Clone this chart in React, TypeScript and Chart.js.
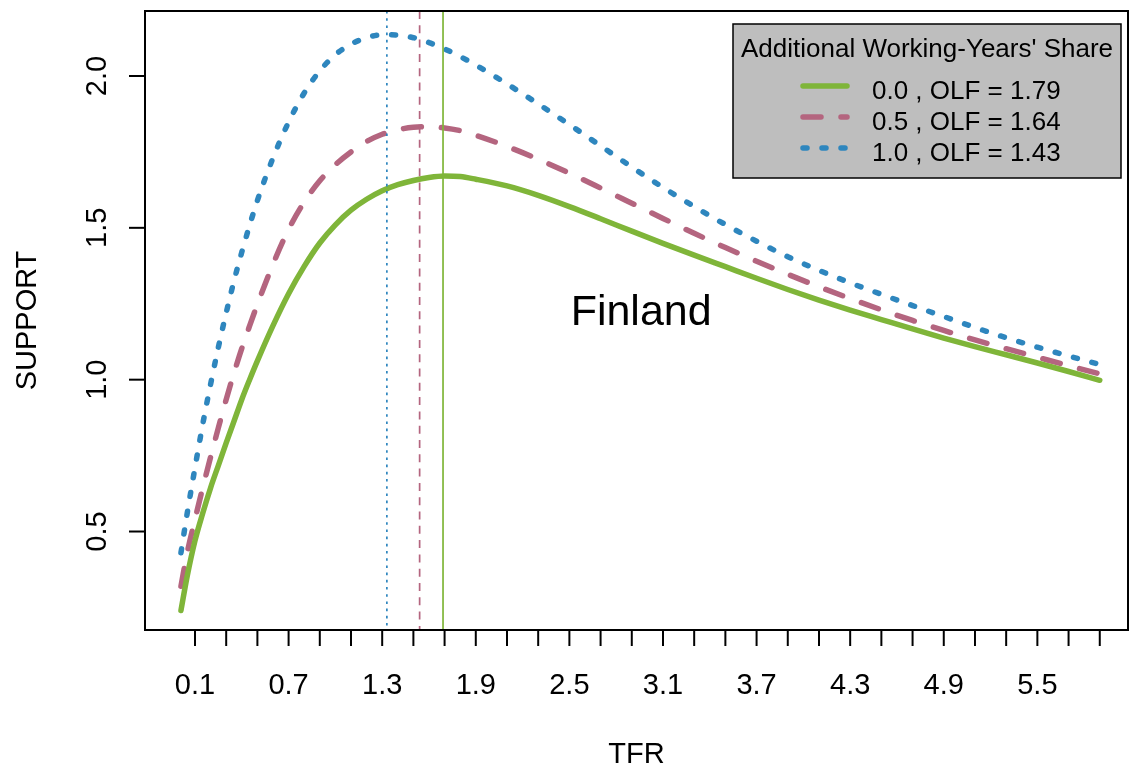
import { useEffect, useRef } from "react";
import { Chart, registerables } from "chart.js";

Chart.register(...registerables);

// Total fertility rate grid shared by the three support curves
const TFR = [
  0.11, 0.15, 0.2, 0.25, 0.3, 0.35, 0.4, 0.45, 0.5, 0.55, 0.6, 0.7, 0.8, 0.9,
  1.0, 1.1, 1.2, 1.3, 1.4, 1.5, 1.6, 1.7, 1.8, 1.9, 2.0, 2.2, 2.4, 2.6, 2.8,
  3.0, 3.2, 3.4, 3.6, 3.8, 4.0, 4.2, 4.4, 4.6, 4.8, 5.0, 5.2, 5.4, 5.6, 5.8,
  6.0,
];

// SUPPORT for additional working-years' share 0.0
const SUPPORT_SHARE_00 = [
  0.24, 0.353, 0.47, 0.561, 0.644, 0.718, 0.792, 0.863, 0.935, 1.0, 1.062,
  1.178, 1.283, 1.373, 1.45, 1.51, 1.558, 1.594, 1.622, 1.642, 1.656, 1.666,
  1.671, 1.669, 1.66, 1.638, 1.607, 1.57, 1.53, 1.489, 1.449, 1.41, 1.372,
  1.334, 1.297, 1.262, 1.229, 1.198, 1.167, 1.137, 1.109, 1.082, 1.055, 1.027,
  0.998,
];

// SUPPORT for share 0.5
const SUPPORT_SHARE_05 = [
  0.32, 0.43, 0.54, 0.645, 0.745, 0.842, 0.935, 1.022, 1.103, 1.177, 1.248,
  1.38, 1.495, 1.585, 1.655, 1.708, 1.75, 1.784, 1.808, 1.823, 1.831, 1.833,
  1.829, 1.82, 1.805, 1.768, 1.726, 1.68, 1.631, 1.581, 1.531, 1.482, 1.435,
  1.39, 1.347, 1.306, 1.267, 1.23, 1.195, 1.162, 1.131, 1.102, 1.074, 1.046,
  1.019,
];

// SUPPORT for share 1.0
const SUPPORT_SHARE_10 = [
  0.43, 0.56, 0.71, 0.854, 0.985, 1.107, 1.22, 1.325, 1.42, 1.508, 1.59,
  1.73, 1.848, 1.944, 2.017, 2.07, 2.105, 2.126, 2.136, 2.135, 2.126, 2.11,
  2.089, 2.064, 2.036, 1.974, 1.908, 1.84, 1.77, 1.7, 1.633, 1.57, 1.511,
  1.456, 1.405, 1.36, 1.319, 1.281, 1.244, 1.208, 1.172, 1.138, 1.107, 1.078,
  1.05,
];

const SHARE_LABELS = ["0.0", "0.5", "1.0"];
// Optimal level of fertility for each share (vertical reference lines)
const OLF = [1.79, 1.64, 1.43];

const X_TICKS = [
  0.2, 0.4, 0.6, 0.8, 1.0, 1.2, 1.4, 1.6, 1.8, 2.0, 2.2, 2.4, 2.6, 2.8, 3.0,
  3.2, 3.4, 3.6, 3.8, 4.0, 4.2, 4.4, 4.6, 4.8, 5.0, 5.2, 5.4, 5.6, 5.8, 6.0,
];
const X_TICK_LABELS = [
  "0.1", "", "", "0.7", "", "", "1.3", "", "", "1.9", "", "", "2.5", "", "",
  "3.1", "", "", "3.7", "", "", "4.3", "", "", "4.9", "", "", "5.5", "", "",
];
const Y_TICKS = [0.5, 1.0, 1.5, 2.0];
const Y_TICK_LABELS = ["0.5", "1.0", "1.5", "2.0"];

const COUNTRY = "Finland";
const X_TITLE = "TFR";
const Y_TITLE = "SUPPORT";
const LEGEND_TITLE = "Additional Working-Years' Share";

const FONT = '"Liberation Sans", Arial, Helvetica, sans-serif';
const COLORS = ["#7FB539", "#B4657F", "#2E86BE"];
const CURVE_DASH = [[], [18, 20], [4, 15]];
const VLINE_DASH = [[], [8, 6.3], [2.6, 4.6]];
const CURVE_WIDTH = 5.5;

const decorPlugin = {
  id: "decor",
  afterDatasetsDraw(chart: any) {
    const { ctx, chartArea: a, scales } = chart;
    const x = scales.x;
    const y = scales.y;
    ctx.save();

    // OLF reference lines
    OLF.forEach((v, i) => {
      const px = x.getPixelForValue(v);
      ctx.beginPath();
      ctx.setLineDash(VLINE_DASH[i]);
      ctx.lineCap = "butt";
      ctx.lineWidth = 1.7;
      ctx.strokeStyle = COLORS[i];
      ctx.moveTo(px, a.top);
      ctx.lineTo(px, a.bottom);
      ctx.stroke();
    });
    ctx.setLineDash([]);

    // country label
    ctx.fillStyle = "#000";
    ctx.font = `43px ${FONT}`;
    ctx.textAlign = "center";
    ctx.textBaseline = "middle";
    ctx.fillText(COUNTRY, x.getPixelForValue(3.06), y.getPixelForValue(1.22));

    // plot box
    ctx.strokeStyle = "#000";
    ctx.lineWidth = 2;
    ctx.strokeRect(a.left, a.top, a.right - a.left, a.bottom - a.top);

    // x ticks and labels
    ctx.font = `29px ${FONT}`;
    ctx.textBaseline = "alphabetic";
    ctx.textAlign = "center";
    X_TICKS.forEach((v, i) => {
      const px = x.getPixelForValue(v);
      ctx.beginPath();
      ctx.moveTo(px, a.bottom);
      ctx.lineTo(px, a.bottom + 16);
      ctx.stroke();
      if (X_TICK_LABELS[i]) ctx.fillText(X_TICK_LABELS[i], px, 694);
    });

    // y ticks and rotated labels
    Y_TICKS.forEach((v, i) => {
      const py = y.getPixelForValue(v);
      ctx.beginPath();
      ctx.moveTo(a.left - 16, py);
      ctx.lineTo(a.left, py);
      ctx.stroke();
      ctx.save();
      ctx.translate(106, py);
      ctx.rotate(-Math.PI / 2);
      ctx.fillText(Y_TICK_LABELS[i], 0, 0);
      ctx.restore();
    });

    // axis titles
    ctx.fillText(X_TITLE, (a.left + a.right) / 2, 763);
    ctx.save();
    ctx.translate(36, (a.top + a.bottom) / 2);
    ctx.rotate(-Math.PI / 2);
    ctx.fillText(Y_TITLE, 0, 0);
    ctx.restore();

    // legend
    const lx = 733;
    const ly = 24;
    const lw = 388;
    const lh = 154;
    ctx.fillStyle = "#BEBEBE";
    ctx.fillRect(lx, ly, lw, lh);
    ctx.lineWidth = 1.5;
    ctx.strokeStyle = "#000";
    ctx.strokeRect(lx, ly, lw, lh);
    ctx.fillStyle = "#000";
    ctx.font = `26px ${FONT}`;
    ctx.textAlign = "center";
    ctx.fillText(LEGEND_TITLE, lx + lw / 2, 57);
    ctx.textAlign = "left";
    SHARE_LABELS.forEach((s, i) => {
      const base = 99 + i * 31;
      const ry = base - 13;
      ctx.beginPath();
      ctx.setLineDash(CURVE_DASH[i]);
      ctx.lineCap = "round";
      ctx.lineWidth = CURVE_WIDTH;
      ctx.strokeStyle = COLORS[i];
      ctx.moveTo(803, ry);
      ctx.lineTo(847, ry);
      ctx.stroke();
      ctx.setLineDash([]);
      ctx.fillStyle = "#000";
      ctx.fillText(`${s} , OLF = ${OLF[i].toFixed(2)}`, 872, base);
    });

    ctx.restore();
  },
};

export default function App() {
  const canvasRef = useRef<HTMLCanvasElement | null>(null);

  useEffect(() => {
    const canvas = canvasRef.current;
    if (!canvas) return;
    const series = [SUPPORT_SHARE_00, SUPPORT_SHARE_05, SUPPORT_SHARE_10];
    const chart = new Chart(canvas, {
      type: "line",
      data: {
        datasets: series.map((vals, i) => ({
          label: SHARE_LABELS[i],
          data: TFR.map((t, k) => ({ x: t, y: vals[k] })),
          borderColor: COLORS[i],
          borderWidth: CURVE_WIDTH,
          borderDash: CURVE_DASH[i],
          borderCapStyle: "round",
          borderJoinStyle: "round",
          pointRadius: 0,
          fill: false,
          cubicInterpolationMode: "monotone",
        })),
      },
      options: {
        responsive: false,
        animation: false,
        devicePixelRatio: 1,
        events: [],
        layout: { padding: { left: 145, right: 3, top: 11, bottom: 137 } },
        scales: {
          x: { type: "linear", display: false, min: -0.1205, max: 6.181 },
          y: { type: "linear", display: false, min: 0.1757, max: 2.214 },
        },
        plugins: {
          legend: { display: false },
          tooltip: { enabled: false },
        },
      },
      plugins: [decorPlugin],
    } as any);
    return () => chart.destroy();
  }, []);

  return (
    <div
      style={{
        position: "fixed",
        left: 0,
        top: 0,
        width: 1131,
        height: 767,
        background: "#fff",
      }}
    >
      <canvas
        ref={canvasRef}
        width={1131}
        height={767}
        style={{ display: "block" }}
      />
    </div>
  );
}
